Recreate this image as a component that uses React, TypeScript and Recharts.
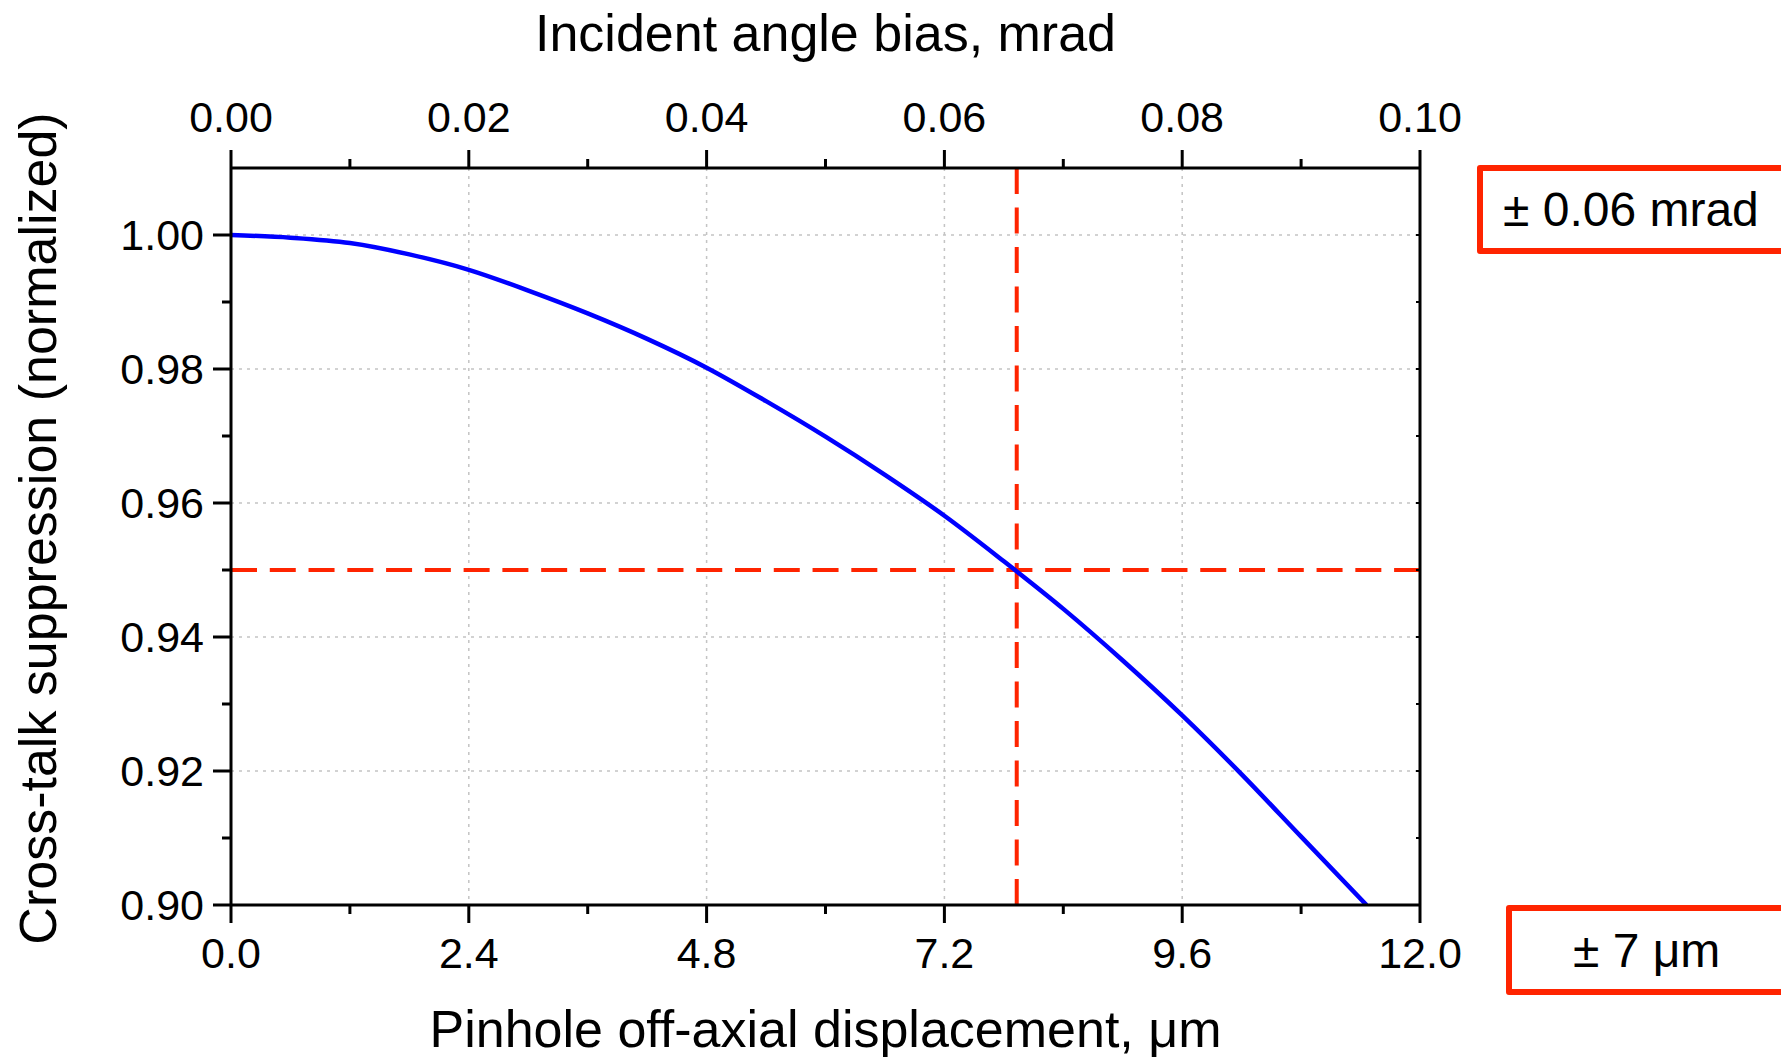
import React from "react";
import {
  LineChart,
  Line,
  XAxis,
  YAxis,
  CartesianGrid,
  ReferenceLine,
} from "recharts";

// Pinhole off-axial displacement (µm) vs normalized cross-talk suppression
const displacement = [0, 0.6, 1.2, 1.8, 2.4, 3.0, 3.6, 4.2, 4.8, 5.4, 6.0, 6.6, 7.2, 7.8, 8.4, 9.0, 9.6, 10.2, 10.8, 11.46];
const suppression = [1.0, 0.9996, 0.9988, 0.9971, 0.9948, 0.9917, 0.9883, 0.9845, 0.9802, 0.9752, 0.9699, 0.9642, 0.9581, 0.9513, 0.9442, 0.9365, 0.9283, 0.9195, 0.9102, 0.9];

// Axis ticks
const xMajor = [0, 2.4, 4.8, 7.2, 9.6, 12];
const xMinor = [1.2, 3.6, 6.0, 8.4, 10.8];
const topMajor = [0, 0.02, 0.04, 0.06, 0.08, 0.1];
const topMinor = [0.01, 0.03, 0.05, 0.07, 0.09];
const yMajor = [0.9, 0.92, 0.94, 0.96, 0.98, 1.0];
const yMinor = [0.91, 0.93, 0.95, 0.97, 0.99];

// Tolerance markers
const thresholdX = 7.93;
const thresholdY = 0.95;

const data = displacement.map((x, i) => ({ x, y: suppression[i] }));

const FONT = "'Liberation Sans', Arial, sans-serif";
const RED = "#ff2400";

const BottomTick = (props: any) => {
  const { x, y, payload } = props;
  const major = xMajor.includes(payload.value);
  return (
    <g>
      <line x1={x} y1={y} x2={x} y2={y + (major ? 18 : 9)} stroke="#000" strokeWidth={3} />
      {major && (
        <text x={x} y={y + 63} textAnchor="middle" fontSize={43} fontFamily={FONT} fill="#000">
          {payload.value.toFixed(1)}
        </text>
      )}
    </g>
  );
};

const TopTick = (props: any) => {
  const { x, y, payload } = props;
  const major = topMajor.includes(payload.value);
  return (
    <g>
      <line x1={x} y1={y} x2={x} y2={y - (major ? 18 : 9)} stroke="#000" strokeWidth={3} />
      {major && (
        <text x={x} y={y - 36} textAnchor="middle" fontSize={43} fontFamily={FONT} fill="#000">
          {payload.value.toFixed(2)}
        </text>
      )}
    </g>
  );
};

const LeftTick = (props: any) => {
  const { x, y, payload } = props;
  const major = yMajor.includes(payload.value);
  return (
    <g>
      <line x1={x} y1={y} x2={x - (major ? 18 : 9)} y2={y} stroke="#000" strokeWidth={3} />
      {major && (
        <text x={x - 27} y={y + 15} textAnchor="end" fontSize={43} fontFamily={FONT} fill="#000">
          {payload.value.toFixed(2)}
        </text>
      )}
    </g>
  );
};

const RightTick = (props: any) => {
  const { x, y } = props;
  return <line x1={x} y1={y} x2={x - 4} y2={y} stroke="#000" strokeWidth={2} />;
};

const boxStyle: React.CSSProperties = {
  position: "absolute",
  border: `6px solid ${RED}`,
  borderRadius: 3,
  boxSizing: "border-box",
  display: "flex",
  alignItems: "center",
  fontFamily: FONT,
  fontSize: 48,
  color: "#000",
  background: "#fff",
};

export default function App() {
  return (
    <div
      style={{
        position: "absolute",
        left: 0,
        top: 0,
        width: 1781,
        height: 1057,
        overflow: "hidden",
        background: "#fff",
      }}
    >
      <LineChart width={1781} height={1057} data={data} margin={{ top: 0, right: 0, bottom: 0, left: 0 }}>
        <CartesianGrid
          xAxisId="bottom"
          yAxisId="left"
          horizontalValues={yMajor}
          verticalValues={xMajor}
          stroke="#c4c4c4"
          strokeDasharray="3 5"
          strokeWidth={1.5}
        />
        <XAxis
          xAxisId="bottom"
          dataKey="x"
          type="number"
          domain={[0, 12]}
          allowDataOverflow
          ticks={[...xMajor, ...xMinor]}
          interval={0}
          height={152}
          tickSize={0}
          tickMargin={0}
          tickLine={false}
          tick={<BottomTick />}
          axisLine={{ stroke: "#000", strokeWidth: 3 }}
          label={{
            content: (p: any) => (
              <text
                x={p.viewBox.x + p.viewBox.width / 2}
                y={p.viewBox.y + 142}
                textAnchor="middle"
                fontSize={52}
                fontFamily={FONT}
                fill="#000"
              >
                Pinhole off-axial displacement, μm
              </text>
            ),
          }}
        />
        <XAxis
          xAxisId="top"
          orientation="top"
          dataKey="x"
          type="number"
          domain={[0, 0.1]}
          allowDataOverflow
          ticks={[...topMajor, ...topMinor]}
          interval={0}
          height={168}
          tickSize={0}
          tickMargin={0}
          tickLine={false}
          tick={<TopTick />}
          axisLine={{ stroke: "#000", strokeWidth: 3 }}
          label={{
            content: (p: any) => (
              <text
                x={p.viewBox.x + p.viewBox.width / 2}
                y={51}
                textAnchor="middle"
                fontSize={52}
                fontFamily={FONT}
                fill="#000"
              >
                Incident angle bias, mrad
              </text>
            ),
          }}
        />
        <YAxis
          yAxisId="left"
          type="number"
          domain={[0.9, 1.01]}
          allowDataOverflow
          ticks={[...yMajor, ...yMinor]}
          interval={0}
          width={231}
          tickSize={0}
          tickMargin={0}
          tickLine={false}
          tick={<LeftTick />}
          axisLine={{ stroke: "#000", strokeWidth: 3 }}
          label={{
            content: (p: any) => {
              const cy = p.viewBox.y + p.viewBox.height / 2 - 8;
              return (
                <text
                  x={56}
                  y={cy}
                  transform={`rotate(-90, 56, ${cy})`}
                  textAnchor="middle"
                  fontSize={52}
                  fontFamily={FONT}
                  fill="#000"
                >
                  Cross-talk suppression (normalized)
                </text>
              );
            },
          }}
        />
        <YAxis
          yAxisId="right"
          orientation="right"
          type="number"
          domain={[0.9, 1.01]}
          allowDataOverflow
          ticks={[...yMajor, ...yMinor]}
          interval={0}
          width={361}
          tickSize={0}
          tickMargin={0}
          tickLine={false}
          tick={<RightTick />}
          axisLine={{ stroke: "#000", strokeWidth: 3 }}
        />
        <ReferenceLine
          xAxisId="bottom"
          yAxisId="left"
          x={thresholdX}
          stroke={RED}
          strokeWidth={4}
          strokeDasharray="26 13.5"
        />
        <ReferenceLine
          xAxisId="bottom"
          yAxisId="left"
          y={thresholdY}
          stroke={RED}
          strokeWidth={4}
          strokeDasharray="26 12.77"
        />
        <Line
          xAxisId="bottom"
          yAxisId="left"
          type="monotone"
          dataKey="y"
          stroke="#0000ff"
          strokeWidth={4.5}
          dot={false}
          activeDot={false}
          isAnimationActive={false}
        />
      </LineChart>

      <div style={{ ...boxStyle, left: 1477, top: 165, width: 340, height: 89, paddingLeft: 20 }}>± 0.06 mrad</div>
      <div style={{ ...boxStyle, left: 1506, top: 905, width: 300, height: 90, paddingLeft: 61 }}>± 7 μm</div>
    </div>
  );
}
